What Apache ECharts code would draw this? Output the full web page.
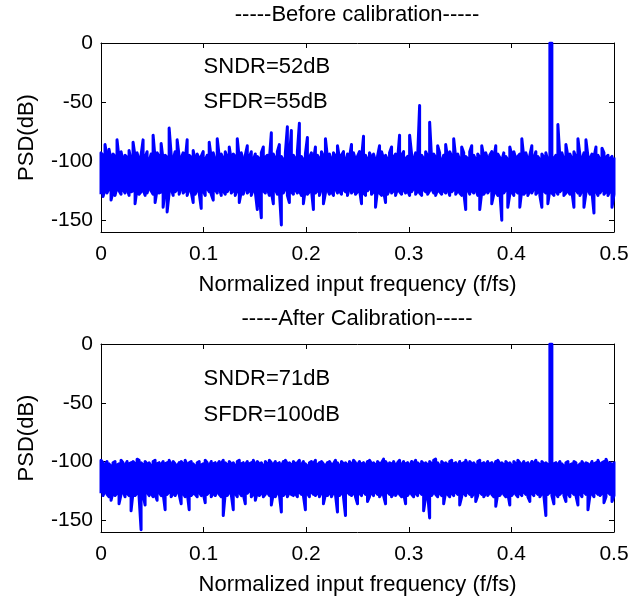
<!DOCTYPE html>
<html><head><meta charset="utf-8">
<script src="https://cdn.jsdelivr.net/npm/echarts@6/dist/echarts.min.js"></script>
<style>html,body{margin:0;padding:0;background:#fff}#c{width:643px;height:601px}</style>
</head><body><div id="c"></div>
<script>
// ---- data ----
const titles = ['-----Before calibration-----', '-----After Calibration-----'];
const xName = 'Normalized input frequency (f/fs)';
const yName = 'PSD(dB)';
const xTicks = [0, 0.1, 0.2, 0.3, 0.4, 0.5];
const yTicks = [-150, -100, -50, 0];
const binCount = 512; // bins over fs -> bin k at freq k / binCount (0..0.5)

// per-bin maximum / minimum of the PSD trace (dB)
const psdBeforeMax = [
-93,-95,-86,-97,-90,-99,-94,-96,-82,-98,-92,-100,-95,-97,-91,-99,
-84,-96,-93,-99,-95,-82,-97,-92,-100,-94,-78,-98,-93,-96,-85,-99,
-95,-97,-72,-94,-99,-92,-82,-96,-98,-93,-100,-82,-95,-97,-91,-99,
-94,-98,-96,-92,-99,-95,-84,-97,-93,-100,-81,-96,-94,-98,-92,-97,
-88,-99,-94,-96,-81,-98,-93,-100,-95,-87,-97,-92,-99,-94,-96,-98,
-93,-88,-97,-95,-99,-76,-94,-98,-92,-86,-96,-99,-93,-71,-97,-74,
-95,-98,-92,-68,-96,-99,-94,-80,-97,-93,-100,-88,-95,-98,-92,-96,
-81,-97,-94,-99,-93,-96,-87,-98,-95,-92,-100,-94,-97,-86,-93,-99,
-96,-92,-98,-79,-95,-99,-93,-97,-94,-100,-96,-87,-92,-98,-95,-99,
-93,-88,-97,-94,-99,-78,-95,-92,-98,-96,-78,-94,-99,-93,-97,-53,
-95,-98,-92,-96,-67,-99,-94,-97,-87,-93,-100,-95,-86,-98,-92,-96,
-81,-97,-94,-99,-88,-93,-96,-98,-92,-87,-95,-99,-94,-97,-87,-96,
-93,-99,-95,-92,-98,-87,-94,-97,-100,-93,-96,-99,-88,-95,-92,-98,
-96,-94,-81,-97,-93,-99,-95,-87,-98,-92,-96,-99,-94,-97,-93,-100,
0,0,-98,-95,-69,-97,-93,-99,-86,-96,-94,-98,-92,-97,-81,-95,
-99,-93,-82,-96,-98,-94,-97,-88,-95,-99,-89,-93,-97,-95,-98,-96,
-97
];
const psdBeforeMin = [
-128,-130,-124,-127,-123,-133,-126,-129,-122,-125,-128,-124,-127,-123,-129,-126,
-125,-136,-123,-128,-126,-124,-129,-127,-122,-125,-128,-135,-124,-127,-126,-139,
-125,-143,-127,-123,-129,-126,-124,-128,-122,-127,-125,-129,-123,-126,-135,-128,
-124,-127,-140,-125,-129,-123,-126,-128,-133,-124,-127,-122,-129,-125,-128,-126,
-123,-127,-125,-129,-124,-135,-126,-128,-122,-127,-125,-129,-124,-126,-141,-128,
-148,-125,-127,-123,-129,-126,-136,-124,-128,-125,-154,-127,-123,-129,-135,-126,
-128,-124,-127,-125,-129,-136,-123,-128,-126,-124,-141,-127,-125,-129,-123,-136,
-127,-124,-128,-126,-129,-123,-127,-125,-128,-124,-126,-129,-122,-127,-125,-128,
-126,-124,-136,-127,-129,-125,-123,-128,-126,-139,-124,-127,-129,-125,-135,-128,
-124,-127,-125,-129,-123,-126,-128,-124,-127,-125,-129,-126,-123,-128,-125,-127,
-129,-124,-126,-128,-125,-123,-127,-129,-124,-126,-128,-125,-127,-123,-129,-126,
-124,-128,-125,-127,-129,-126,-141,-124,-128,-125,-127,-123,-129,-141,-126,-128,
-125,-127,-124,-136,-128,-126,-129,-125,-150,-127,-124,-139,-128,-126,-129,-125,
-127,-139,-124,-128,-126,-129,-125,-127,-123,-128,-126,-129,-139,-125,-127,-136,
-124,-127,-129,-125,-128,-126,-124,-129,-127,-125,-128,-126,-139,-124,-127,-129,
-125,-139,-127,-124,-128,-126,-144,-125,-129,-127,-124,-128,-126,-129,-125,-139,
-128
];
const psdAfterMax = [
-99,-101,-103,-100,-102,-104,-101,-100,-103,-102,-99,-101,-104,-100,-102,-101,
-100,-102,-98,-99,-101,-103,-100,-102,-101,-104,-100,-99,-102,-101,-103,-100,
-102,-101,-99,-103,-100,-102,-104,-101,-100,-102,-99,-103,-101,-100,-102,-104,
-101,-100,-103,-102,-99,-101,-104,-100,-102,-101,-103,-100,-102,-99,-101,-103,
-100,-102,-101,-104,-100,-99,-102,-101,-103,-100,-102,-101,-99,-103,-100,-102,
-101,-104,-100,-102,-99,-101,-103,-100,-102,-101,-104,-100,-99,-102,-101,-103,
-100,-102,-101,-99,-103,-100,-102,-104,-101,-100,-102,-99,-103,-101,-100,-102,
-104,-101,-100,-103,-102,-99,-101,-104,-100,-102,-101,-103,-100,-102,-99,-101,
-103,-100,-102,-101,-104,-100,-99,-102,-101,-103,-100,-102,-101,-98,-100,-103,
-101,-102,-100,-104,-101,-99,-103,-100,-102,-101,-104,-100,-102,-99,-101,-103,
-100,-102,-101,-103,-100,-102,-99,-98,-101,-104,-100,-102,-101,-103,-100,-99,
-102,-101,-104,-100,-102,-101,-99,-103,-100,-102,-101,-104,-100,-99,-102,-101,
-103,-100,-102,-101,-104,-100,-99,-102,-101,-103,-100,-102,-101,-104,-100,-102,
-99,-101,-103,-100,-102,-101,-104,-100,-102,-99,-101,-103,-100,-102,-101,-103,
0,0,-102,-101,-103,-100,-102,-104,-101,-100,-103,-102,-100,-101,-104,-102,
-100,-103,-101,-102,-104,-100,-102,-101,-99,-103,-101,-100,-98,-102,-101,-103,
-100
];
const psdAfterMin = [
-127,-129,-125,-128,-130,-133,-126,-129,-127,-136,-128,-125,-130,-127,-129,-142,
-126,-129,-127,-130,-158,-128,-137,-126,-129,-127,-130,-128,-133,-126,-129,-127,
-141,-128,-126,-130,-127,-129,-125,-128,-136,-127,-130,-126,-141,-129,-127,-128,
-130,-126,-129,-127,-135,-128,-126,-130,-127,-129,-125,-128,-130,-146,-127,-129,
-126,-128,-141,-127,-130,-126,-129,-128,-136,-127,-125,-130,-128,-133,-126,-129,
-127,-130,-128,-126,-129,-137,-127,-130,-126,-128,-143,-129,-127,-130,-126,-128,
-129,-127,-130,-126,-128,-129,-141,-127,-130,-126,-128,-129,-127,-130,-126,-136,
-128,-129,-127,-130,-126,-128,-143,-129,-127,-130,-146,-126,-128,-129,-127,-130,
-136,-127,-129,-126,-128,-134,-130,-127,-129,-126,-128,-130,-127,-129,-136,-126,
-128,-130,-127,-129,-126,-128,-130,-127,-136,-129,-126,-128,-130,-127,-129,-126,
-128,-142,-130,-127,-148,-129,-126,-128,-130,-127,-129,-136,-126,-128,-130,-127,
-129,-126,-128,-137,-130,-127,-129,-126,-128,-130,-127,-134,-129,-126,-128,-130,
-127,-129,-126,-128,-130,-138,-127,-129,-126,-128,-130,-127,-137,-129,-126,-128,
-130,-127,-129,-126,-128,-130,-134,-127,-129,-126,-128,-130,-127,-129,-146,-128,
-126,-129,-136,-127,-130,-128,-126,-129,-134,-127,-130,-126,-128,-129,-137,-127,
-130,-126,-128,-141,-129,-127,-130,-126,-128,-129,-127,-135,-130,-126,-128,-134,
-129
];

const noteFreq = [0.1, 0.1];
const noteDbBefore = [-20, -50];
const noteDbAfter = [-30, -60];
const noteTextBefore = ['SNDR=52dB', 'SFDR=55dB'];
const noteTextAfter = ['SNDR=71dB', 'SFDR=100dB'];

// ---- build ----
const FONT = 'Liberation Sans, Arial, Helvetica, sans-serif';
// trace through each bin's min and max, alternating order so the stroke zig-zags like a dense PSD
function trace(maxArr, minArr) {
  const out = [];
  maxArr.forEach((hi, k) => {
    const f = k / binCount;
    const lo = minArr[k];
    if (k % 2 === 0) { out.push([f, lo]); out.push([f, hi]); }
    else { out.push([f, hi]); out.push([f, lo]); }
  });
  return out;
}

const grids = [
  { left: 101, top: 43, width: 513, height: 189 },
  { left: 101, top: 344, width: 513, height: 188 }
];

const axisLineStyle = { show: true, onZero: false, lineStyle: { color: '#000', width: 1 } };
const xAxes = [], yAxes = [];
grids.forEach((g, i) => {
  xAxes.push({
    gridIndex: i, type: 'value', min: 0, max: 0.5, interval: 0.1, position: 'bottom',
    axisLine: axisLineStyle,
    axisTick: { inside: true, length: 5, lineStyle: { color: '#000' }, customValues: xTicks },
    axisLabel: { customValues: xTicks, color: '#000', fontSize: 21, fontFamily: FONT, margin: 12 },
    splitLine: { show: false },
    name: xName, nameLocation: 'middle', nameGap: 42,
    nameTextStyle: { color: '#000', fontSize: 22, fontFamily: FONT }
  });
  xAxes.push({
    gridIndex: i, type: 'value', min: 0, max: 0.5, interval: 0.1, position: 'top',
    axisLine: axisLineStyle,
    axisTick: { inside: true, length: 5, lineStyle: { color: '#000' }, customValues: xTicks },
    axisLabel: { show: false }, splitLine: { show: false }
  });
  yAxes.push({
    gridIndex: i, type: 'value', min: -160, max: 0, position: 'left',
    axisLine: axisLineStyle,
    axisTick: { inside: true, length: 5, lineStyle: { color: '#000' }, customValues: yTicks },
    axisLabel: { customValues: yTicks, color: '#000', fontSize: 21, fontFamily: FONT, margin: 8 },
    splitLine: { show: false },
    name: yName, nameLocation: 'middle', nameGap: 63, nameRotate: 90,
    nameTextStyle: { color: '#000', fontSize: 22, fontFamily: FONT }
  });
  yAxes.push({
    gridIndex: i, type: 'value', min: -160, max: 0, position: 'right',
    axisLine: axisLineStyle,
    axisTick: { inside: true, length: 5, lineStyle: { color: '#000' }, customValues: yTicks },
    axisLabel: { show: false }, splitLine: { show: false }
  });
});

const lineStyle = { color: '#0000ff', width: 3, join: 'round' };

const option = {
  animation: false,
  backgroundColor: '#fff',
  title: [
    { text: titles[0], left: 357, top: 4, textAlign: 'center', padding: 0,
      textStyle: { fontSize: 22, fontWeight: 'normal', color: '#000', fontFamily: FONT } },
    { text: titles[1], left: 357, top: 308, textAlign: 'center', padding: 0,
      textStyle: { fontSize: 22, fontWeight: 'normal', color: '#000', fontFamily: FONT } }
  ],
  grid: grids,
  xAxis: xAxes,
  yAxis: yAxes,
  series: [
    { type: 'line', xAxisIndex: 0, yAxisIndex: 0, data: trace(psdBeforeMax, psdBeforeMin),
      showSymbol: false, symbol: 'none', lineStyle: lineStyle, clip: true, silent: true },
    { type: 'line', xAxisIndex: 2, yAxisIndex: 2, data: trace(psdAfterMax, psdAfterMin),
      showSymbol: false, symbol: 'none', lineStyle: lineStyle, clip: true, silent: true }
  ]
};

const chart = echarts.init(document.getElementById('c'), null, { renderer: 'canvas' });
chart.setOption(option);

// text annotations anchored at data coordinates of each panel
function noteGraphics(gridIndex, fs, dbs, texts) {
  return fs.map((f, i) => {
    const p = chart.convertToPixel({ xAxisIndex: gridIndex * 2, yAxisIndex: gridIndex * 2 }, [f, dbs[i]]);
    return {
      type: 'text', x: p[0], y: p[1], z: 10,
      style: { text: texts[i], fill: '#000', font: '22px ' + FONT, verticalAlign: 'middle', textVerticalAlign: 'middle', align: 'left' }
    };
  });
}
chart.setOption({
  graphic: noteGraphics(0, noteFreq, noteDbBefore, noteTextBefore)
    .concat(noteGraphics(1, noteFreq, noteDbAfter, noteTextAfter))
});
</script>
</body></html>
